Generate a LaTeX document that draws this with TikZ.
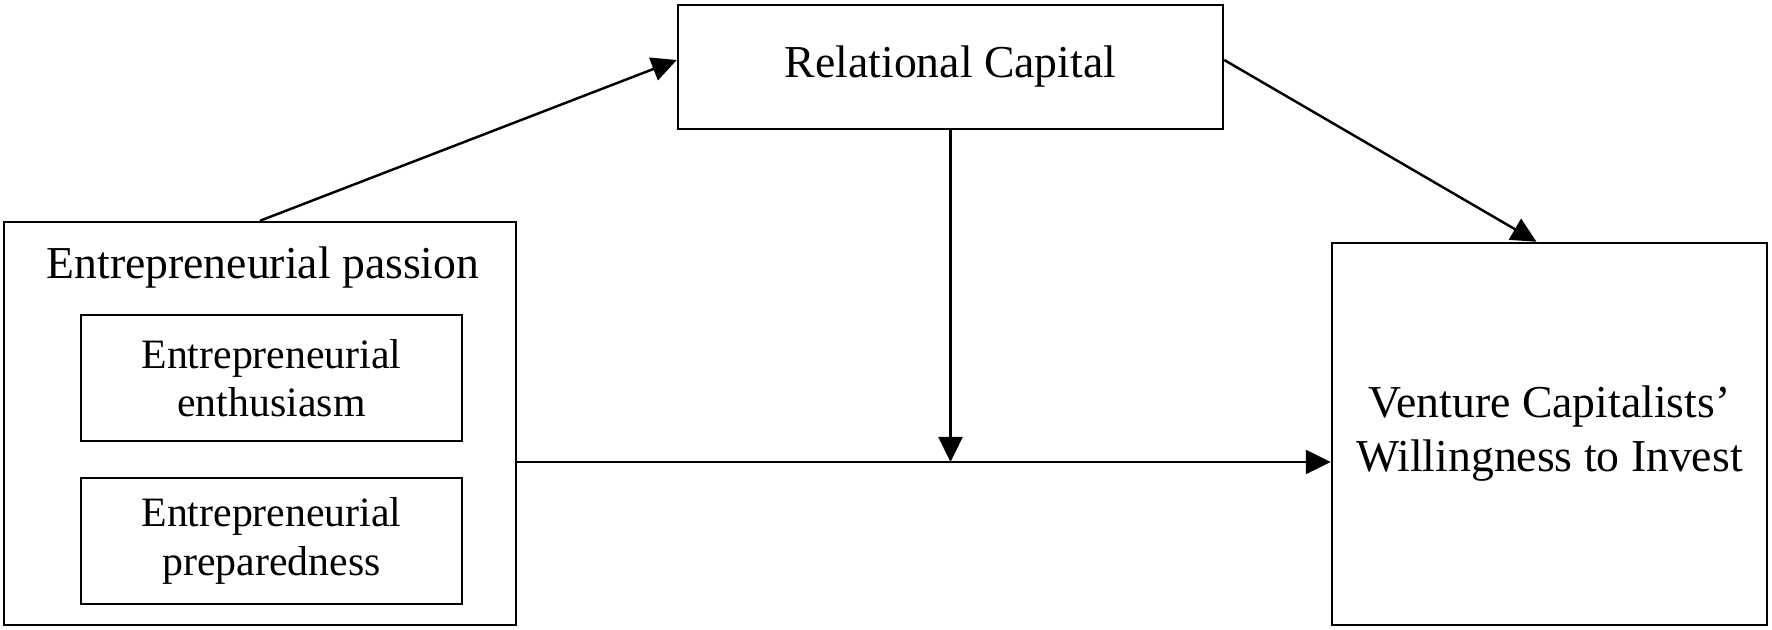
\documentclass[tikz,border=0pt]{standalone}
\usepackage{fontspec}
\setmainfont{Liberation Serif}
\usetikzlibrary{positioning,arrows.meta}
\tikzset{
    box/.style={draw, rectangle, line width=0.7pt, inner sep=0pt, align=center, font=\fontsize{13}{15.4}\selectfont},
    subbox/.style={box, minimum width=3.81cm, minimum height=1.255cm, font=\fontsize{11.9}{13.7}\selectfont},
    arr/.style={-{Triangle[length=2.5mm,width=2.4mm]}, line width=0.7pt}
}
\begin{document}
\begin{tikzpicture}
			\useasboundingbox (0,0) rectangle (17.72,-6.30);
			\node[box, minimum width=5.115cm, minimum height=4.03cm] (ep) at (2.60,-4.235) {};
			\node[anchor=base, font=\fontsize{13}{15.4}\selectfont] (ept) at (2.63,-2.79) {Entrepreneurial passion};
			\node[subbox] (enth) at (2.715,-3.78) {Entrepreneurial\\enthusiasm};
			\node[subbox] (prep) at (2.715,-5.41) {Entrepreneurial\\preparedness};
			\node[box, minimum width=5.45cm, minimum height=1.24cm] (rc) at (9.505,-0.67) {Relational Capital};
			\node[box, minimum width=4.35cm, minimum height=3.82cm] (vc) at (15.495,-4.34) {Venture Capitalists'\\Willingness to Invest};
			\coordinate (mid) at (rc.south |- 0,-4.62);

			\draw[arr] (ep.north) -- ([yshift=0.07cm]rc.west);
			\draw[arr] ([yshift=0.07cm]rc.east) -- ([xshift=-0.13cm]vc.north);
			\draw[arr] (rc.south) -- (mid);
			\draw[arr] (ep.east |- mid) -- (vc.west |- mid);
		\end{tikzpicture}
\end{document}
